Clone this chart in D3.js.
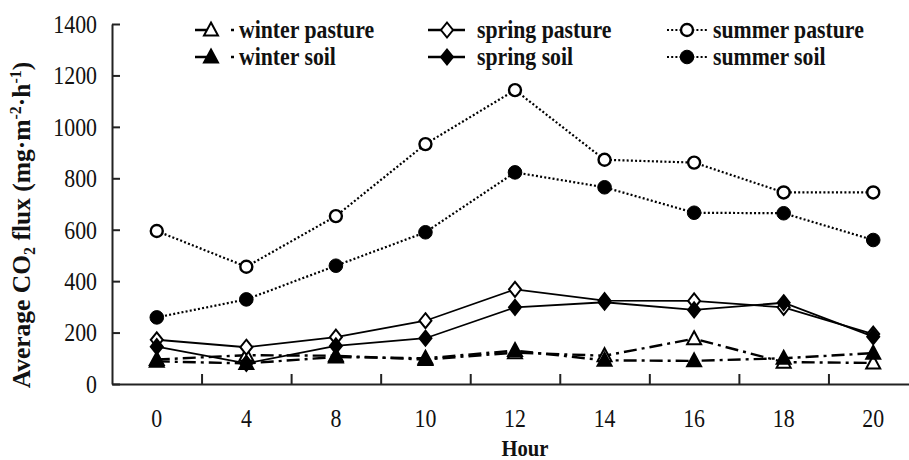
<!DOCTYPE html>
<html><head><meta charset="utf-8">
<script src="https://cdn.jsdelivr.net/npm/d3@7"></script>
<style>
html,body{margin:0;padding:0;background:#fff;}
</style></head>
<body><svg id="c" width="909" height="460"></svg>
<script>
const hours = ["0","4","8","10","12","14","16","18","20"];
const yTicks = [0,200,400,600,800,1000,1200,1400];
const winterPasture = [95,112,110,95,122,110,176,85,82];
const springPasture = [172,143,182,246,368,324,323,298,194];
const summerPasture = [595,456,653,933,1143,872,861,745,745];
const winterSoil = [88,80,105,100,130,92,90,100,120];
const springSoil = [145,80,148,178,298,318,288,316,184];
const summerSoil = [259,329,460,590,823,765,666,664,560];

const seriesNames = ["winter pasture","spring pasture","summer pasture","winter soil","spring soil","summer soil"];
const seriesValues = [winterPasture,springPasture,summerPasture,winterSoil,springSoil,summerSoil];
const seriesMarker = ["triangle","diamond","circle","triangle","diamond","circle"];
const seriesFilled = [false,false,false,true,true,true];
const seriesDash = ["dashdot","solid","dot","dashdot","solid","dot"];

const FONT = "'Liberation Serif', 'Times New Roman', Tinos, 'DejaVu Serif', serif";
const svg = d3.select("#c");
const x = d3.scaleBand().domain(hours).range([112,918]);
const xi = d3.scaleLinear().domain([0,hours.length]).range([112,918]);
const y = d3.scaleLinear().domain([0,1400]).range([384,24]);
const SX = 0.84;

function squeeze(sel, sx){
  sel.each(function(){
    const t = d3.select(this);
    const xx = +t.attr("x") || 0;
    t.attr("x", xx/sx).attr("transform", `scale(${sx},1)`);
  });
}

const dashes = {dashdot:"13,5,3,5", solid:null, dot:"2,2.2"};
const widths = {dashdot:2.4, solid:1.8, dot:2.2};

function markerPath(kind){
  if(kind==="triangle") return "M0,-7.5L7,5.5L-7,5.5Z";
  return "M0,-7.5L6,0L0,7.5L-6,0Z";
}
function drawMarker(g, kind, filled){
  if(kind==="circle"){
    g.append("circle").attr("r", filled?6.8:6)
      .attr("fill", filled?"#000":"#fff").attr("stroke","#000").attr("stroke-width", filled?1:2.4);
  } else {
    g.append("path").attr("d", markerPath(kind))
      .attr("fill", filled?"#000":"#fff").attr("stroke","#000").attr("stroke-width",2);
  }
}

// axes
const gy = svg.append("g").attr("transform","translate(112,0)")
  .call(d3.axisLeft(y).tickValues(yTicks).tickFormat(d3.format("d")).tickSizeInner(-8).tickSizeOuter(0).tickPadding(15));
gy.attr("font-family",null);
gy.selectAll("text").attr("font-size",26).style("font-family",FONT).attr("fill","#111").call(squeeze,SX);

const gxt = svg.append("g").attr("transform","translate(0,384)")
  .call(d3.axisBottom(xi).tickValues(d3.range(1,hours.length)).tickSizeInner(-10).tickSizeOuter(0).tickFormat(""));
const gx = svg.append("g").attr("transform","translate(0,384)")
  .call(d3.axisBottom(x).tickSize(0).tickPadding(24.5));
gx.attr("font-family",null);
gx.select(".domain").remove();
gx.selectAll("text").attr("font-size",26).style("font-family",FONT).attr("fill","#111").call(squeeze,SX);
svg.selectAll(".domain, .tick line").attr("stroke","#222").attr("stroke-width",2);

// series
const line = d3.line().x((d,i)=>x(hours[i])+x.bandwidth()/2).y(d=>y(d));
seriesValues.forEach((vals,k)=>{
  svg.append("path").datum(vals).attr("d",line).attr("fill","none")
    .attr("stroke","#000").attr("stroke-width",widths[seriesDash[k]])
    .attr("stroke-dasharray",dashes[seriesDash[k]]);
});
seriesValues.forEach((vals,k)=>{
  vals.forEach((v,i)=>{
    const g = svg.append("g").attr("transform",`translate(${x(hours[i])+x.bandwidth()/2},${y(v)})`);
    drawMarker(g, seriesMarker[k], seriesFilled[k]);
  });
});

// labels
svg.append("text").attr("transform","translate(525,456) scale(0.86,1)")
  .style("font-family",FONT).attr("fill","#111")
  .attr("text-anchor","middle").attr("font-size",24).attr("font-weight","bold").text("Hour");

const yl = svg.append("text").attr("transform","translate(30,225) rotate(-90)")
  .style("font-family",FONT).attr("fill","#111")
  .attr("text-anchor","middle").attr("font-size",25.5).attr("font-weight","bold");
yl.append("tspan").text("Average CO");
yl.append("tspan").attr("font-size",16).attr("dy",5).text("2");
yl.append("tspan").attr("dy",-5).text(" flux (mg·m");
yl.append("tspan").attr("font-size",16).attr("dy",-9).text("-2");
yl.append("tspan").attr("dy",9).text("·h");
yl.append("tspan").attr("font-size",16).attr("dy",-9).text("-1");
yl.append("tspan").attr("dy",9).text(")");

// legend
const legCols = [195,428,667];
const legRows = [30,57];
const legLen = {dashdot:40, solid:37, dot:40};
const legDash = {dashdot:"15,21,3,40", solid:null, dot:"2,2.2"};
const legMark = {dashdot:16, solid:19, dot:20};
const legText = {dashdot:44, solid:49, dot:46};
seriesNames.forEach((name,k)=>{
  const col = k%3, row = Math.floor(k/3);
  const st = seriesDash[k];
  const g = svg.append("g").attr("transform",`translate(${legCols[col]},${legRows[row]})`);
  g.append("line").attr("x1",0).attr("x2",legLen[st]).attr("stroke","#000")
    .attr("stroke-width",st==="dot"?2.2:2.4).attr("stroke-dasharray",legDash[st]);
  const mg = g.append("g").attr("transform",`translate(${legMark[st]},0)`);
  drawMarker(mg, seriesMarker[k], seriesFilled[k]);
  g.append("text").attr("transform",`translate(${legText[st]},8) scale(0.87,1)`)
    .style("font-family",FONT).attr("fill","#111")
    .attr("font-size",25).attr("font-weight","bold").text(name);
});
</script></body></html>
